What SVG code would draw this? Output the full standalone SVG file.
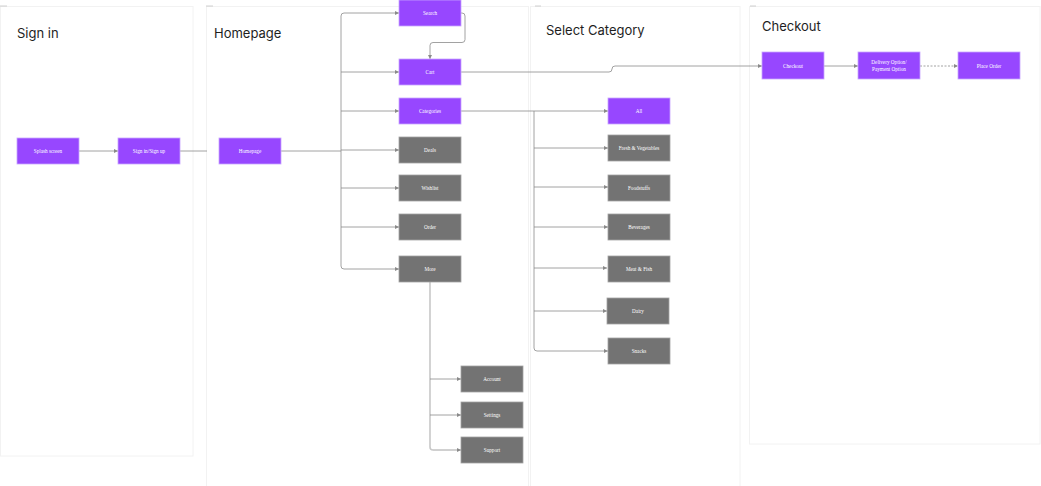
<svg xmlns="http://www.w3.org/2000/svg" width="1041" height="486" viewBox="0 0 1041 486">
<defs>
<style>
.frame{fill:#ffffff;stroke:#f2f2f2;stroke-width:1}
.tick{stroke:#c4c4c4;stroke-width:0.8}
.title{font-family:Inter,"Liberation Sans",sans-serif;font-size:13px;fill:#1e1e1e}
.p rect{fill:#9747ff;stroke:#c9a6ff;stroke-width:0.8}
.g rect{fill:#737373;stroke:#a3a3a3;stroke-width:0.8}
.node text{font-family:"Liberation Serif",serif;font-size:5.2px;fill:#ffffff;text-anchor:middle;dominant-baseline:central}
.c{fill:none;stroke:#8a8a8a;stroke-width:0.8}
.ca{fill:none;stroke:#8a8a8a;stroke-width:0.8;marker-end:url(#ah)}
.light{fill:none;stroke:#c8c8c8;stroke-width:1.6}
.dash{stroke-dasharray:2 1.5}
</style>
<marker id="ah" viewBox="0 0 4 4" refX="4" refY="2" markerWidth="4" markerHeight="4" markerUnits="userSpaceOnUse" orient="auto">
<path d="M0,0 L4,2 L0,4 z" fill="#8a8a8a"/>
</marker>
</defs>
<rect width="1041" height="486" fill="#ffffff"/>
<g id="frames">
<rect class="frame" x="0.5" y="6.5" width="192.5" height="449.5"/>
<rect class="frame" x="206.5" y="6.5" width="322" height="490"/>
<rect class="frame" x="530.5" y="6.5" width="209.5" height="490"/>
<rect class="frame" x="749.5" y="6.5" width="290.5" height="437.5"/>
<line class="tick" x1="0" y1="6" x2="7" y2="6"/>
<line class="tick" x1="206" y1="6" x2="213" y2="6"/>
<line class="tick" x1="535" y1="6" x2="541" y2="6"/>
<line class="tick" x1="750" y1="6" x2="756" y2="6"/>
<text class="title" x="17" y="38">Sign in</text>
<text class="title" x="214" y="38">Homepage</text>
<text class="title" x="546" y="35">Select Category</text>
<text class="title" x="762" y="31">Checkout</text>
</g>
<g id="connectors">
<line class="ca" x1="79" y1="151" x2="118" y2="151"/>
<line class="c" x1="180" y1="151" x2="207" y2="151"/>
<line class="c" x1="281" y1="151" x2="341" y2="151"/>
<path class="c" d="M341,16 Q341,13 344,13 M341,16 V266 Q341,269 344,269"/>
<path class="ca" d="M344,13 H399"/>
<path class="ca" d="M341,72 H399"/>
<path class="ca" d="M341,111 H399"/>
<path class="ca" d="M341,150 H399"/>
<path class="ca" d="M341,188 H399"/>
<path class="ca" d="M341,227 H399"/>
<path class="ca" d="M344,269 H399"/>
<path class="ca" d="M461,13 H462 Q465,13 465,16 V39.5 Q465,42.5 462,42.5 H433 Q430,42.5 430,45.5 V59"/>
<path class="ca" d="M461,72 H609 Q612,72 612,69 Q612,66 615,66 H762"/>
<path class="ca" d="M461,111 H608"/>
<path class="c" d="M534,111 V348 Q534,351 537,351"/>
<path class="ca" d="M534,148 H608"/>
<path class="ca" d="M534,187 H608"/>
<path class="ca" d="M534,227 H608"/>
<path class="ca" d="M534,268 H607"/>
<path class="ca" d="M534,311 H607"/>
<path class="ca" d="M537,351 H608"/>
<path class="light" d="M430,282 V447 Q430,450 433,450"/>
<path class="ca" d="M430,379 H461"/>
<path class="ca" d="M430,415 H461"/>
<path class="ca" d="M433,450 H461"/>
<path class="ca" d="M824,66 H858"/>
<path class="ca dash" d="M920,66 H958"/>
</g>
<g id="n-splash" class="node p"><rect x="17" y="138" width="62" height="26"/><text x="48" y="151">Splash screen</text></g>
<g id="n-signin" class="node p"><rect x="118" y="138" width="62" height="26"/><text x="149" y="151">Sign in/Sign up</text></g>
<g id="n-homepage" class="node p"><rect x="219" y="138" width="62" height="26"/><text x="250" y="151">Homepage</text></g>
<g id="n-search" class="node p"><rect x="399" y="0" width="62" height="26"/><text x="430" y="13">Search</text></g>
<g id="n-cart" class="node p"><rect x="399" y="59" width="62" height="26"/><text x="430" y="72">Cart</text></g>
<g id="n-categories" class="node p"><rect x="399" y="98" width="62" height="26"/><text x="430" y="111">Categories</text></g>
<g id="n-deals" class="node g"><rect x="399" y="137" width="62" height="26"/><text x="430" y="150">Deals</text></g>
<g id="n-wishlist" class="node g"><rect x="399" y="175" width="62" height="26"/><text x="430" y="188">Wishlist</text></g>
<g id="n-order" class="node g"><rect x="399" y="214" width="62" height="26"/><text x="430" y="227">Order</text></g>
<g id="n-more" class="node g"><rect x="399" y="256" width="62" height="26"/><text x="430" y="269">More</text></g>
<g id="n-account" class="node g"><rect x="461" y="366" width="62" height="26"/><text x="492" y="379">Account</text></g>
<g id="n-settings" class="node g"><rect x="461" y="402" width="62" height="26"/><text x="492" y="415">Settings</text></g>
<g id="n-support" class="node g"><rect x="461" y="437" width="62" height="26"/><text x="492" y="450">Support</text></g>
<g id="n-all" class="node p"><rect x="608" y="98" width="62" height="26"/><text x="639" y="111">All</text></g>
<g id="n-fresh" class="node g"><rect x="608" y="135" width="62" height="26"/><text x="639" y="148">Fresh &amp; Vegetables</text></g>
<g id="n-foodstuffs" class="node g"><rect x="608" y="175" width="62" height="26"/><text x="639" y="188">Foodstuffs</text></g>
<g id="n-beverages" class="node g"><rect x="608" y="214" width="62" height="26"/><text x="639" y="227">Beverages</text></g>
<g id="n-meat" class="node g"><rect x="608" y="256" width="62" height="26"/><text x="639" y="269">Meat &amp; Fish</text></g>
<g id="n-dairy" class="node g"><rect x="607" y="298" width="62" height="26"/><text x="638" y="311">Dairy</text></g>
<g id="n-snacks" class="node g"><rect x="608" y="338" width="62" height="26"/><text x="639" y="351">Snacks</text></g>
<g id="n-checkout" class="node p"><rect x="762" y="52" width="62" height="27"/><text x="793" y="65.5">Checkout</text></g>
<g id="n-delivery" class="node p"><rect x="858" y="52" width="62" height="27"/><text x="889" y="62">Delivery Option/</text><text x="889" y="69">Payment Option</text></g>
<g id="n-place" class="node p"><rect x="958" y="52" width="62" height="27"/><text x="989" y="65.5">Place Order</text></g>
</svg>
